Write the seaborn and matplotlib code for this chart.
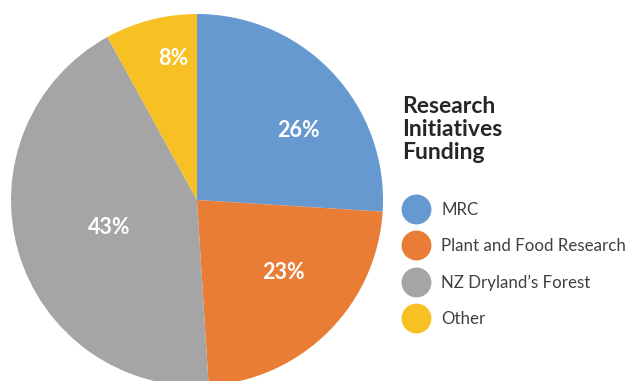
import numpy as np
import matplotlib
matplotlib.use("Agg")
import matplotlib.pyplot as plt
from matplotlib.lines import Line2D
import seaborn as sns

# Funding shares (percent) per source
sources = ["MRC", "Plant and Food Research", "NZ Dryland\u2019s Forest", "Other"]
shares = [26, 23, 43, 8]
colors = ["#6699D0", "#E97D36", "#A5A5A5", "#F7C124"]
title = "Research\nInitiatives\nFunding"

sns.set_theme(style="white")
plt.rcParams["font.family"] = ["Lato", "DejaVu Sans"]

fig = plt.figure(figsize=(6.3, 3.81), dpi=100)
# square axes holding the pie, slightly running off the bottom edge
ax = fig.add_axes([11 / 630, -5 / 381, 372 / 630, 372 / 381])

wedges, _ = ax.pie(
    shares,
    colors=sns.color_palette(colors),
    startangle=90,
    counterclock=False,
    radius=1.0,
    wedgeprops=dict(linewidth=0),
)
ax.set_xlim(-1, 1)
ax.set_ylim(-1, 1)
ax.set_aspect("equal")
ax.axis("off")

# percentage labels placed along each wedge's mid angle
label_dist = [0.67, 0.60, 0.49, 0.78]
angle_shift = [-8, 6, 0, -5]
for w, v, d, s in zip(wedges, shares, label_dist, angle_shift):
    mid = np.deg2rad((w.theta1 + w.theta2) / 2 + s)
    ax.text(d * np.cos(mid), d * np.sin(mid) - 0.01, f"{v}%",
            ha="center", va="center", color="white",
            fontsize=15.5, fontweight="bold")

fig.text(402 / 630, 1 - 96 / 381, title, ha="left", va="top",
         fontsize=16.5, fontweight="bold", color="#262626", linespacing=1.12)

handles = [Line2D([0], [0], marker="o", linestyle="none", markersize=20.5,
                  markerfacecolor=c, markeredgecolor=c) for c in colors]
fig.legend(handles, sources, loc="upper left",
           bbox_to_anchor=(404 / 630, 1 - 202 / 381), frameon=False,
           fontsize=12.2, labelcolor="#404040", handletextpad=0.8,
           labelspacing=1.2, borderaxespad=0, borderpad=0,
           handlelength=1.4)

fig.savefig("out.png", dpi=100)
